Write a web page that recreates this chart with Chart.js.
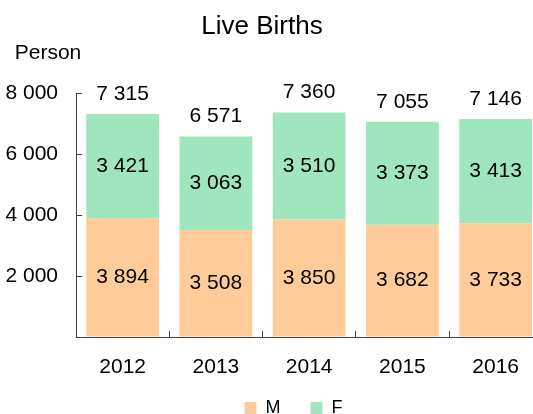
<!DOCTYPE html>
<html>
<head>
<meta charset="utf-8">
<script src="https://cdn.jsdelivr.net/npm/chart.js@4"></script>
<style>
  body { margin: 0; background: #fff; }
  #wrap { width: 533px; height: 414px; overflow: hidden; position: relative; }
  canvas { position: absolute; left: 0; top: 0; }
</style>
</head>
<body>
<div id="wrap"><canvas id="birthsChart" width="543" height="427"></canvas></div>
<script>
// data
const years = ['2012', '2013', '2014', '2015', '2016'];
const male = [3894, 3508, 3850, 3682, 3733];
const female = [3421, 3063, 3510, 3373, 3413];
const seriesNames = ['M', 'F'];
const chartTitle = 'Live Births';
const unitLabel = 'Person';

const FONT = '"Liberation Sans", Arial, sans-serif';
const AXIS = '#404040';

function fmt(v) {
  return String(v).replace(/\B(?=(\d{3})+(?!\d))/g, ' ');
}

// value labels, totals, title and unit
const barLabels = {
  id: 'barLabels',
  afterDatasetsDraw(chart) {
    const ctx = chart.ctx;
    ctx.save();
    ctx.fillStyle = '#000';
    ctx.textAlign = 'center';
    ctx.textBaseline = 'middle';
    ctx.font = '21px ' + FONT;
    chart.data.datasets.forEach((ds, i) => {
      chart.getDatasetMeta(i).data.forEach((bar, j) => {
        ctx.fillText(fmt(ds.data[j]), bar.x, (bar.y + bar.base) / 2);
      });
    });
    chart.getDatasetMeta(1).data.forEach((bar, j) => {
      ctx.fillText(fmt(male[j] + female[j]), bar.x, bar.y - 20);
    });
    ctx.font = '26px ' + FONT;
    ctx.fillText(chartTitle, 262, 27);
    ctx.font = '21px ' + FONT;
    ctx.fillText(unitLabel, 48, 53);
    ctx.restore();
  }
};

// legend sits a bit right of the canvas centre in the original
const legendShift = {
  id: 'legendShift',
  afterLayout(chart) {
    chart.legend.left += 22;
    chart.legend.right += 22;
  }
};

const ctx = document.getElementById('birthsChart').getContext('2d');
const chart = new Chart(ctx, {
  type: 'bar',
  data: {
    labels: years,
    datasets: [{
      label: seriesNames[0],
      data: male,
      backgroundColor: '#FFCC99'
    }, {
      label: seriesNames[1],
      data: female,
      backgroundColor: '#9FE6BF'
    }]
  },
  options: {
    responsive: false,
    animation: false,
    devicePixelRatio: 1,
    categoryPercentage: 1,
    barPercentage: 0.78,
    layout: { padding: { left: 0, top: 93, right: 0, bottom: 0 } },
    plugins: {
      title: { display: false },
      tooltip: { enabled: false },
      legend: {
        position: 'bottom',
        labels: {
          boxWidth: 12,
          boxHeight: 12,
          padding: 10,
          color: '#000',
          font: { family: FONT, size: 18 },
          generateLabels: (chart) => {
            const items = Chart.defaults.plugins.legend.labels.generateLabels(chart);
            items[0].text = items[0].text + '    ';
            return items;
          }
        }
      }
    },
    scales: {
      x: {
        stacked: true,
        afterFit: (scale) => { scale.height = 52; },
        grid: { drawOnChartArea: false, tickLength: -6, color: AXIS },
        border: { color: AXIS },
        ticks: { color: '#000', padding: 24, font: { family: FONT, size: 21 } }
      },
      y: {
        stacked: true,
        min: 0,
        max: 8000,
        afterFit: (scale) => { scale.width = 76; },
        grid: { drawOnChartArea: false, tickLength: -6, color: AXIS },
        border: { color: AXIS },
        ticks: {
          stepSize: 2000,
          color: '#000',
          padding: 24,
          font: { family: FONT, size: 21 },
          callback: (v) => v === 0 ? '' : fmt(v)
        }
      }
    }
  },
  plugins: [barLabels, legendShift]
});
</script>
</body>
</html>
